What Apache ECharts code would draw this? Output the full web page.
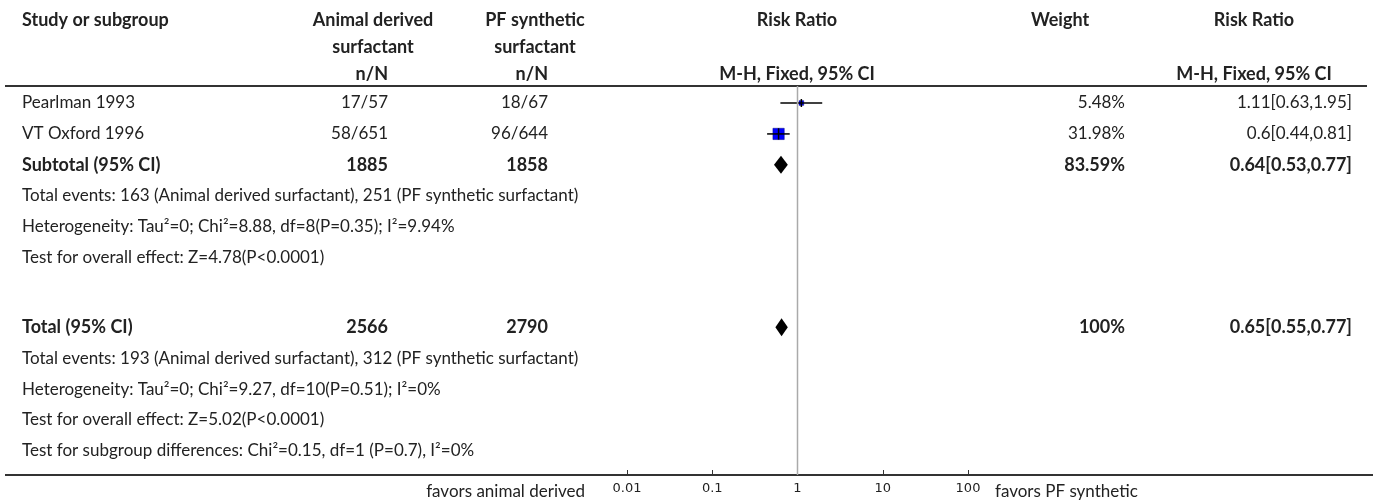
<!DOCTYPE html>
<html>
<head>
<meta charset="UTF-8">
<title></title>
<script src="https://cdn.jsdelivr.net/npm/echarts@6/dist/echarts.min.js"></script>
<style>
  html, body { margin: 0; padding: 0; background: #fff; }
  #forest { width: 1373px; height: 504px; }
</style>
</head>
<body>
<div id="forest"></div>
<script>
// ---- data ----
var studies = ['Pearlman 1993', 'VT Oxford 1996'];
var animalNN = ['17/57', '58/651'];
var synthNN = ['18/67', '96/644'];
var studyRR = [1.11, 0.6];
var studyLo = [0.63, 0.44];
var studyHi = [1.95, 0.81];
var studyWeight = [5.48, 31.98];
var studyWeightText = ['5.48%', '31.98%'];
var studyRRText = ['1.11[0.63,1.95]', '0.6[0.44,0.81]'];

var pooledNames = ['Subtotal (95% CI)', 'Total (95% CI)'];
var pooledAnimalN = ['1885', '2566'];
var pooledSynthN = ['1858', '2790'];
var pooledRR = [0.64, 0.65];
var pooledLo = [0.53, 0.55];
var pooledHi = [0.77, 0.77];
var pooledWeightText = ['83.59%', '100%'];
var pooledRRText = ['0.64[0.53,0.77]', '0.65[0.55,0.77]'];

var subtotalNotes = [
  'Total events: 163 (Animal derived surfactant), 251 (PF synthetic surfactant)',
  'Heterogeneity: Tau\u00b2=0; Chi\u00b2=8.88, df=8(P=0.35); I\u00b2=9.94%',
  'Test for overall effect: Z=4.78(P<0.0001)'
];
var totalNotes = [
  'Total events: 193 (Animal derived surfactant), 312 (PF synthetic surfactant)',
  'Heterogeneity: Tau\u00b2=0; Chi\u00b2=9.27, df=10(P=0.51); I\u00b2=0%',
  'Test for overall effect: Z=5.02(P<0.0001)',
  'Test for subgroup differences: Chi\u00b2=0.15, df=1 (P=0.7), I\u00b2=0%'
];
var tickLabels = ['0.01', '0.1', '1', '10', '100'];

// ---- layout ----
var FONT = 'Lato';
var TXT = '#222';
var BODY = 17, BOLD = 18;
var totalRow = 7.25;      // first row after the blank gap
var subtotalRow = studies.length;
var yMin = -0.55, yMax = 12.03;
var colStudy = 22, colAnimal = 388, colSynth = 548, colWeight = 1125, colRR = 1352;

var chart = echarts.init(document.getElementById('forest'));

var studyData = [];
for (var i = 0; i < studies.length; i++) {
  studyData.push([studyRR[i], studyLo[i], studyHi[i], i, studyWeight[i]]);
}
var pooledData = [
  [pooledRR[0], pooledLo[0], pooledHi[0], subtotalRow],
  [pooledRR[1], pooledLo[1], pooledHi[1], totalRow]
];

function renderStudy(params, api) {
  var p = api.coord([api.value(0), api.value(3)]);
  var lo = api.coord([api.value(1), api.value(3)]);
  var hi = api.coord([api.value(2), api.value(3)]);
  var s = 2 * Math.sqrt(api.value(4));
  var t = Math.max(4, s / 2);
  return {
    type: 'group',
    children: [
      { type: 'rect', shape: { x: p[0] - s / 2, y: p[1] - s / 2, width: s, height: s },
        style: { fill: '#0000ff', stroke: '#000080', lineWidth: 0.5 } },
      { type: 'line', shape: { x1: lo[0], y1: p[1], x2: hi[0], y2: p[1] },
        style: { stroke: '#000', lineWidth: 1.5 } },
      { type: 'line', shape: { x1: p[0], y1: p[1] - t, x2: p[0], y2: p[1] + t },
        style: { stroke: '#000', lineWidth: 1.5 } }
    ]
  };
}

function renderDiamond(params, api) {
  var p = api.coord([api.value(0), api.value(3)]);
  var lo = api.coord([api.value(1), api.value(3)]);
  var hi = api.coord([api.value(2), api.value(3)]);
  return {
    type: 'polygon',
    shape: { points: [[lo[0], p[1]], [p[0], p[1] - 9], [hi[0], p[1]], [p[0], p[1] + 9]] },
    style: { fill: '#000' }
  };
}

var option = {
  animation: false,
  grid: { left: 627, right: 1373 - 968, top: 86, bottom: 29 },
  xAxis: {
    type: 'log',
    logBase: 10,
    min: 0.01,
    max: 100,
    axisLine: { onZero: false, lineStyle: { color: '#333', width: 2 } },
    axisTick: { inside: true, length: 5, lineStyle: { color: '#333' } },
    axisLabel: {
      margin: 7, fontSize: 13, color: '#222', fontFamily: 'DejaVu Sans',
      formatter: function (v) {
        var k = Math.round(Math.log10(v)) + 2;
        return tickLabels[k] !== undefined ? tickLabels[k] : '';
      }
    },
    splitLine: { show: false },
    minorTick: { show: false }
  },
  yAxis: {
    type: 'value', inverse: true, min: yMin, max: yMax,
    show: false, splitLine: { show: false }
  },
  series: [
    {
      type: 'line', silent: true, symbol: 'none',
      data: [[1, yMin], [1, yMax]],
      lineStyle: { color: '#aaaaaa', width: 1.5 }
    },
    { type: 'custom', renderItem: renderStudy, data: studyData, encode: { x: [0, 1, 2], y: 3 } },
    { type: 'custom', renderItem: renderDiamond, data: pooledData, encode: { x: [0, 1, 2], y: 3 } }
  ]
};
chart.setOption(option);

// ---- table text, placed on the same row scale ----
function rowY(r) { return chart.convertToPixel({ yAxisIndex: 0 }, r); }
function txt(x, y, s, align, bold) {
  return {
    type: 'text', x: x, y: y, silent: true,
    style: {
      text: s, fill: TXT, fontFamily: FONT, fontSize: bold ? BOLD : BODY,
      fontWeight: bold ? 'bold' : 'normal', align: align || 'left', verticalAlign: 'middle'
    }
  };
}

var g = [];
// headers
g.push(txt(colStudy, 20, 'Study or subgroup', 'left', true));
g.push(txt(373, 20, 'Animal derived', 'center', true));
g.push(txt(373, 47, 'surfactant', 'center', true));
g.push(txt(colAnimal, 74, 'n/N', 'right', true));
g.push(txt(535, 20, 'PF synthetic', 'center', true));
g.push(txt(535, 47, 'surfactant', 'center', true));
g.push(txt(colSynth, 74, 'n/N', 'right', true));
g.push(txt(797, 20, 'Risk Ratio', 'center', true));
g.push(txt(797, 74, 'M-H, Fixed, 95% CI', 'center', true));
g.push(txt(1060, 20, 'Weight', 'center', true));
g.push(txt(1254, 20, 'Risk Ratio', 'center', true));
g.push(txt(1254, 74, 'M-H, Fixed, 95% CI', 'center', true));

// studies
for (var i = 0; i < studies.length; i++) {
  var y = rowY(i);
  g.push(txt(colStudy, y, studies[i]));
  g.push(txt(colAnimal, y, animalNN[i], 'right'));
  g.push(txt(colSynth, y, synthNN[i], 'right'));
  g.push(txt(colWeight, y, studyWeightText[i], 'right'));
  g.push(txt(colRR, y, studyRRText[i], 'right'));
}
// pooled rows
var pooledRows = [subtotalRow, totalRow];
var notes = [subtotalNotes, totalNotes];
for (var k = 0; k < 2; k++) {
  var y = rowY(pooledRows[k]);
  g.push(txt(colStudy, y, pooledNames[k], 'left', true));
  g.push(txt(colAnimal, y, pooledAnimalN[k], 'right', true));
  g.push(txt(colSynth, y, pooledSynthN[k], 'right', true));
  g.push(txt(colWeight, y, pooledWeightText[k], 'right', true));
  g.push(txt(colRR, y, pooledRRText[k], 'right', true));
  for (var n = 0; n < notes[k].length; n++) {
    g.push(txt(colStudy, rowY(pooledRows[k] + 1 + n), notes[k][n]));
  }
}

// rules and favours labels
var yTop = rowY(yMin), yBot = rowY(yMax);
g.push({ type: 'line', silent: true, shape: { x1: 5, y1: yTop, x2: 1367, y2: yTop },
  style: { stroke: '#333', lineWidth: 2 } });
g.push({ type: 'line', silent: true, shape: { x1: 5, y1: yBot, x2: 1373, y2: yBot },
  style: { stroke: '#333', lineWidth: 2 } });
g.push(txt(585, 492, 'favors animal derived', 'right'));
g.push(txt(995, 492, 'favors PF synthetic', 'left'));

chart.setOption({ graphic: g });
</script>
</body>
</html>
